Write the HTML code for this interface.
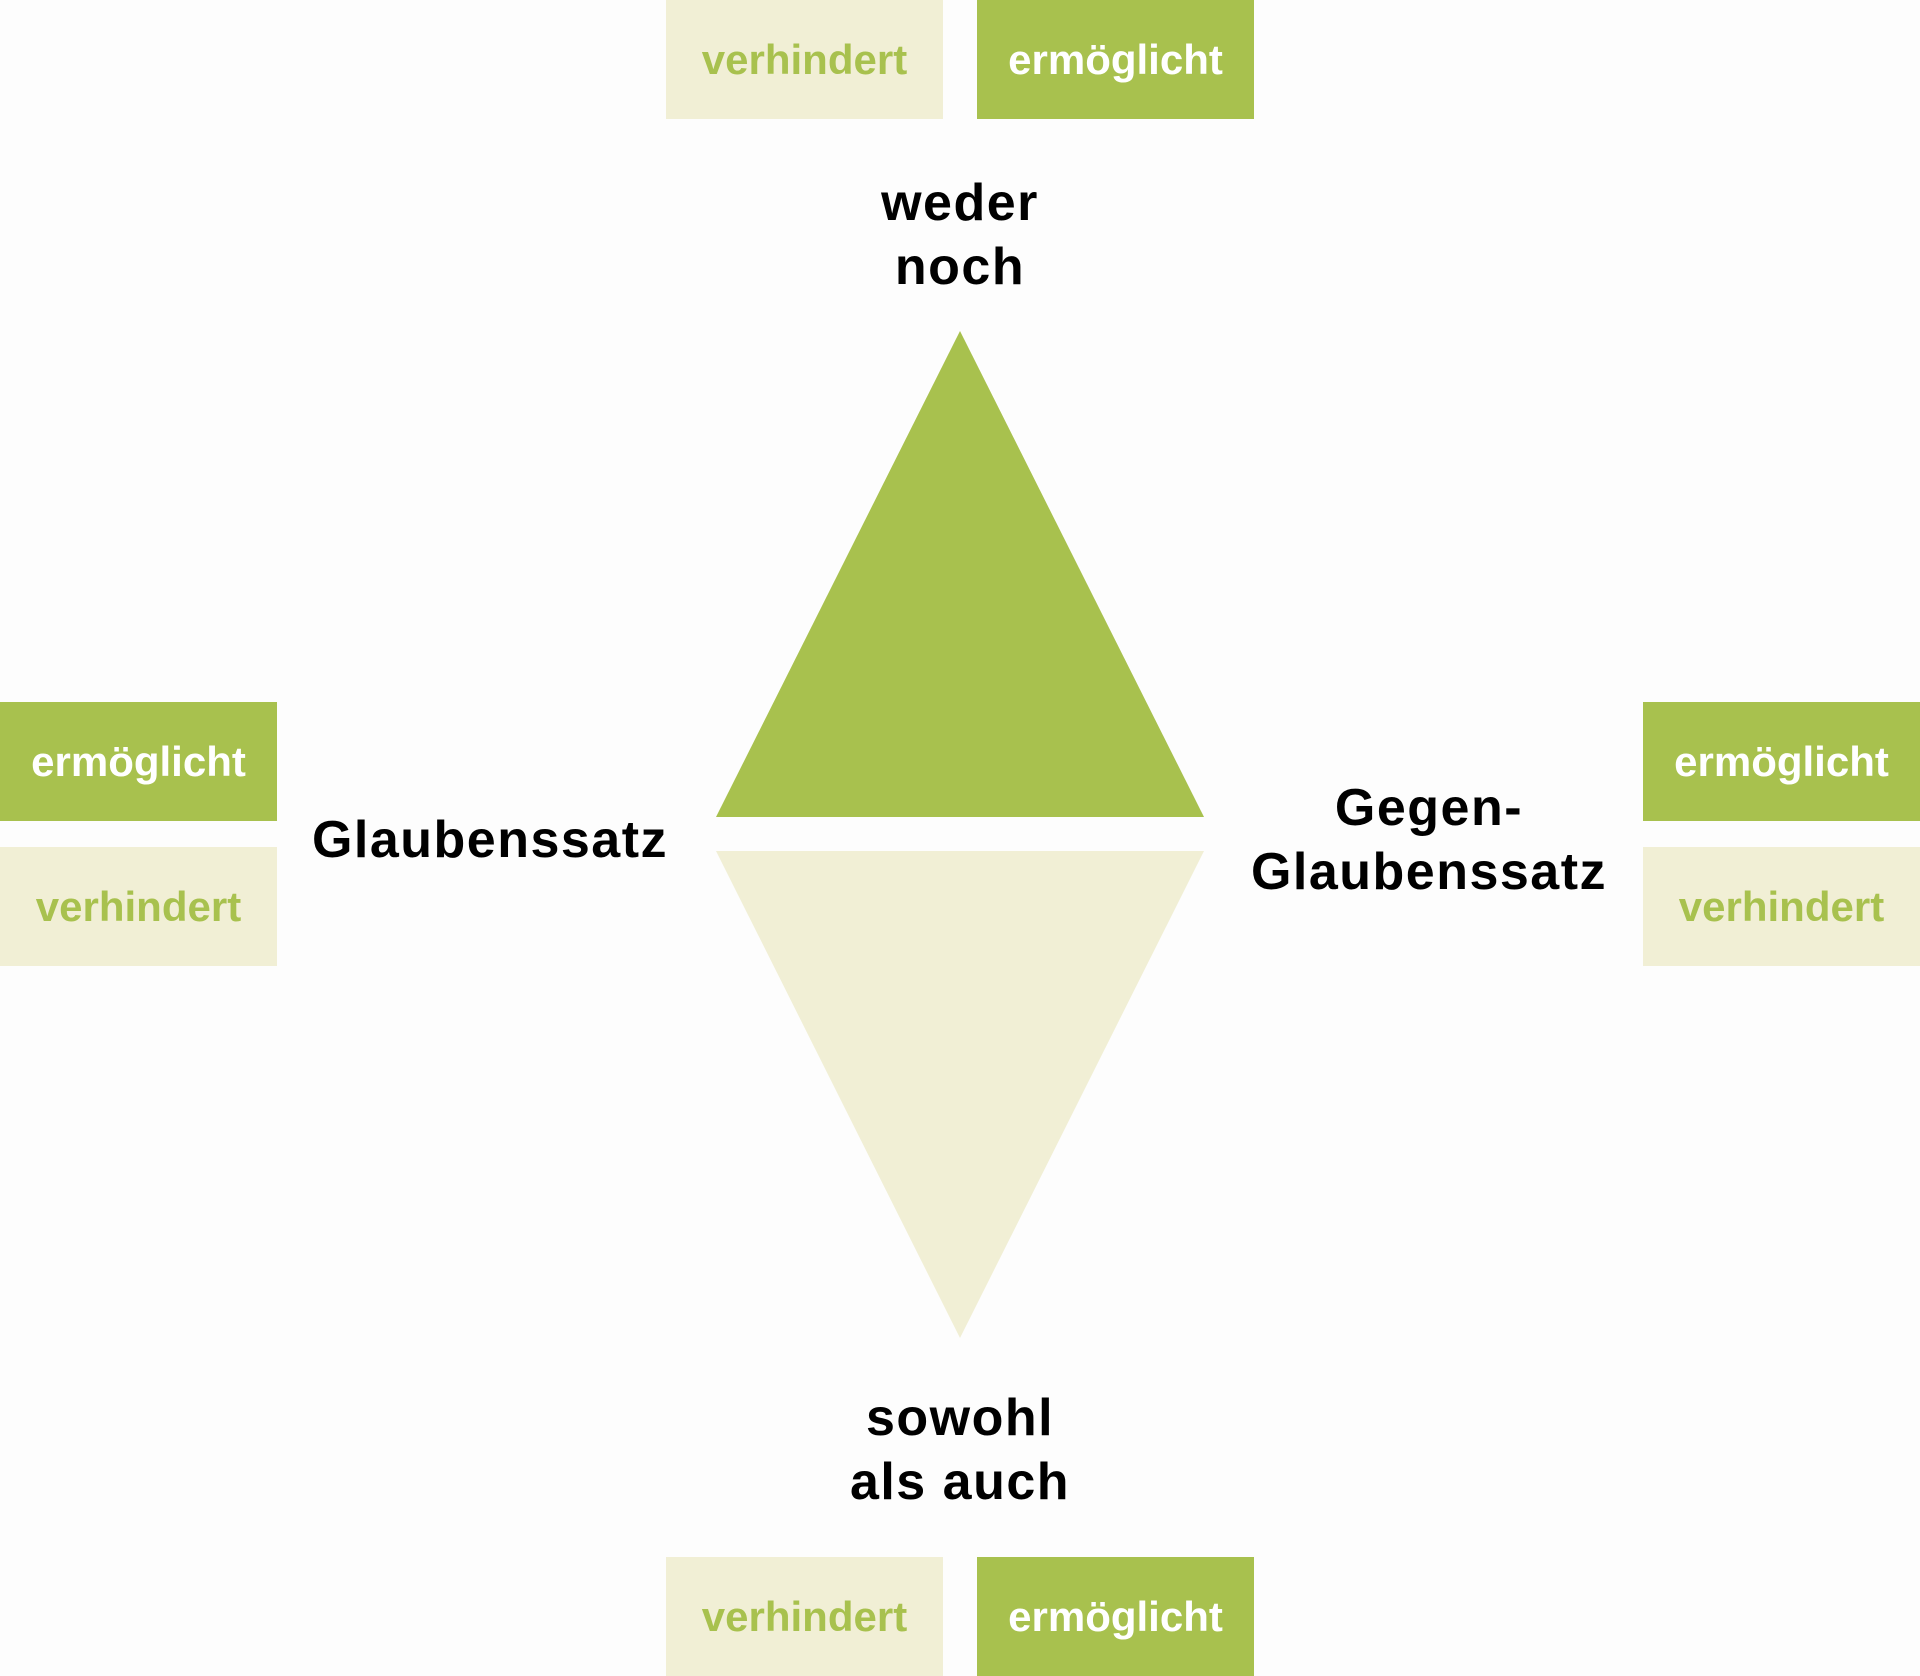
<!DOCTYPE html>
<html><head><meta charset="utf-8"><style>
html,body{margin:0;padding:0}
body{width:1920px;height:1676px;background:#fdfdfd;position:relative;overflow:hidden;font-family:"Liberation Sans",sans-serif;font-weight:bold}
.b{position:absolute;width:277px;height:119px;display:flex;align-items:center;justify-content:center;font-size:42px}
.g{background:#a8c14e;color:#fff}
.l{background:#f1efd5;color:#a8c14e}
.t{position:absolute;color:#000;font-size:52px;text-align:center;line-height:64px;width:500px;letter-spacing:1.5px}
</style></head><body>
<div class="b l" style="left:666px;top:0">verhindert</div>
<div class="b g" style="left:977px;top:0">ermöglicht</div>
<div class="b g" style="left:0;top:702px">ermöglicht</div>
<div class="b l" style="left:0;top:847px">verhindert</div>
<div class="b g" style="left:1643px;top:702px">ermöglicht</div>
<div class="b l" style="left:1643px;top:847px">verhindert</div>
<div class="b l" style="left:666px;top:1557px">verhindert</div>
<div class="b g" style="left:977px;top:1557px">ermöglicht</div>
<svg style="position:absolute;left:0;top:0" width="1920" height="1676">
<polygon points="960,331 1204,817 716,817" fill="#a8c14e"/>
<polygon points="716,851 1204,851 960,1338" fill="#f1efd5"/>
</svg>
<div class="t" style="left:710px;top:171px">weder<br>noch</div>
<div class="t" style="left:240px;top:808px">Glaubenssatz</div>
<div class="t" style="left:1179px;top:776px">Gegen-<br>Glaubenssatz</div>
<div class="t" style="left:710px;top:1386px">sowohl<br>als auch</div>
</body></html>
